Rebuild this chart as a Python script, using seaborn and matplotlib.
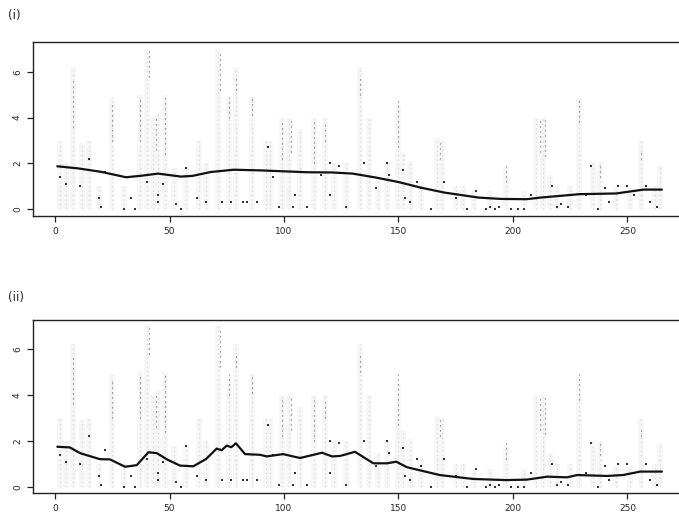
import numpy as np
import pandas as pd
import matplotlib
matplotlib.use("Agg")
import matplotlib.pyplot as plt
import seaborn as sns

# ---- data -------------------------------------------------------------
# range columns: time index and upper end of each column (lower end 0)
col_x = [2, 5, 8, 12, 15, 19, 25, 30, 37, 40, 43, 45, 48, 52, 57, 63, 66,
         71, 76, 79, 86, 92, 94, 99, 102, 107, 113, 118, 122, 127, 133, 137,
         141, 145, 150, 152, 155, 160, 167, 169, 175, 178, 183, 190, 197, 205,
         210, 213, 216, 219, 225, 229, 235, 238, 245, 251, 256, 262, 264]
col_top = [3.0, 2.0, 6.2, 2.9, 3.0, 1.0, 4.9, 1.0, 5.0, 7.0, 4.0, 4.2, 5.0,
           1.8, 1.8, 3.0, 2.0, 7.0, 4.8, 6.2, 4.9, 3.0, 3.0, 4.0, 4.0, 3.5,
           4.0, 4.0, 2.0, 2.0, 6.2, 4.0, 1.5, 2.0, 4.5, 2.5, 2.1, 1.2, 3.1,
           3.0, 1.0, 1.0, 0.8, 0.8, 1.8, 0.8, 4.0, 4.0, 1.5, 1.0, 1.0, 4.8,
           2.0, 2.0, 0.9, 0.9, 3.0, 1.0, 1.9]

# darker stretches within columns
seg_x = [8, 25, 37, 41, 44, 48, 72, 76, 79, 86, 99, 103, 113, 118, 133, 150,
         168, 197, 212, 214, 229, 238, 256]
seg_lo = [3.6, 3.0, 3.0, 5.8, 2.6, 2.4, 5.2, 4.0, 5.2, 4.1, 2.2, 2.5, 2.0,
          3.0, 5.0, 2.7, 2.2, 1.2, 2.5, 2.3, 3.8, 1.4, 2.2]
seg_hi = [5.8, 4.6, 4.9, 6.9, 4.0, 4.9, 6.8, 4.9, 5.8, 4.8, 3.8, 3.9, 3.8,
          3.8, 5.8, 4.9, 2.9, 1.9, 4.0, 4.0, 4.9, 1.9, 2.5]

# individual observations
obs_x = [2, 5, 11, 15, 19, 20, 22, 30, 35, 33, 40, 45, 45, 47, 53, 55, 57,
         66, 62, 73, 77, 82, 84, 88, 93, 95, 98, 104, 105, 110, 116, 120, 120,
         124, 127, 135, 140, 145, 146, 152, 153, 155, 158, 160, 164, 170, 175,
         180, 184, 188, 190, 192, 194, 199, 202, 205, 208, 217, 219, 221, 224,
         232, 234, 237, 240, 242, 246, 250, 253, 258, 260, 263]
obs_y = [1.4, 1.1, 1.0, 2.2, 0.5, 0.1, 1.6, 0.0, 0.0, 0.5, 1.2, 0.6, 0.3, 1.1,
         0.2, 0.0, 1.8, 0.3, 0.5, 0.3, 0.3, 0.3, 0.3, 0.3, 2.7, 1.4, 0.1, 0.1,
         0.6, 0.1, 1.5, 0.6, 2.0, 1.9, 0.1, 2.0, 0.9, 2.0, 1.5, 1.7, 0.5, 0.3,
         1.2, 0.9, 0.0, 1.2, 0.5, 0.0, 0.8, 0.0, 0.1, 0.0, 0.1, 0.0, 0.0, 0.0,
         0.6, 1.0, 0.1, 0.2, 0.1, 0.6, 1.9, 0.0, 0.9, 0.3, 1.0, 1.0, 0.6, 1.0,
         0.3, 0.1]

# fitted curves
fit1_x = [1, 10, 20, 31, 38, 45, 55, 60, 68, 78, 90, 100, 110, 121, 130, 140,
          150, 160, 170, 185, 195, 206, 212, 220, 229, 245, 257, 265]
fit1_y = [1.87, 1.78, 1.63, 1.39, 1.46, 1.55, 1.42, 1.45, 1.62, 1.72, 1.69,
          1.65, 1.61, 1.60, 1.55, 1.38, 1.18, 0.93, 0.72, 0.50, 0.44, 0.43,
          0.50, 0.57, 0.65, 0.68, 0.85, 0.85]

fit2_x = [1, 6.5, 11, 19.6, 24, 30.6, 35.7, 40.8, 44.5, 48.9, 54.6, 60.4, 66,
          70.6, 72.8, 75, 77, 79, 83, 89.5, 92.5, 99.6, 107, 116.6, 121, 124.5,
          131, 139, 145, 149, 153.7, 168, 182.5, 197, 206, 215, 223.6, 228,
          241, 248, 255.5, 265]
fit2_y = [1.75, 1.72, 1.47, 1.21, 1.20, 0.88, 0.95, 1.51, 1.47, 1.20, 0.93,
          0.90, 1.22, 1.67, 1.60, 1.80, 1.73, 1.90, 1.43, 1.40, 1.33, 1.43,
          1.26, 1.49, 1.33, 1.35, 1.53, 1.03, 1.03, 1.10, 0.86, 0.52, 0.35,
          0.30, 0.32, 0.45, 0.42, 0.52, 0.48, 0.52, 0.67, 0.67]

x_ticks = [0, 50, 100, 150, 200, 250]
y_ticks = [0, 2, 4, 6]

# ---- figure -----------------------------------------------------------
sns.set_style("ticks")
plt.rcParams["font.family"] = ["DejaVu Sans"]

W, H = 679, 521
fig = plt.figure(figsize=(W / 100, H / 100), dpi=100)

obs = pd.DataFrame({"t": obs_x, "v": obs_y})


def panel(top_px, bot_px, zero_px, six_px, fit_x, fit_y, tag, tag_y):
    left_px, right_px = 33, 700
    ax = fig.add_axes([left_px / W, 1 - bot_px / H,
                       (right_px - left_px) / W, (bot_px - top_px) / H])
    ppu_x = 2.29
    ppu_y = (zero_px - six_px) / 6.0
    ax.set_xlim((left_px - 55) / ppu_x, (right_px - 55) / ppu_x)
    ax.set_ylim((zero_px - bot_px) / ppu_y, (zero_px - top_px) / ppu_y)

    # faint bands and dotted ranges
    ax.vlines(col_x, 0, col_top, color="#f6f6f6", linewidth=4.0, zorder=1)
    ax.vlines(col_x, 0, col_top, color="#d6d6d6", linewidth=0.8,
              linestyles=(0, (1.0, 3.0)), zorder=2)
    ax.vlines(seg_x, seg_lo, seg_hi, color="#666666", linewidth=0.8,
              linestyles=(0, (1.0, 3.5)), zorder=3)
    sns.scatterplot(data=obs, x="t", y="v", ax=ax, s=2.5, color="#333333",
                    marker="s", linewidth=0, zorder=4, legend=False)
    fit = pd.DataFrame({"t": fit_x, "v": fit_y})
    sns.lineplot(data=fit, x="t", y="v", ax=ax, color="#111111",
                 linewidth=1.6, zorder=5, sort=False)

    ax.set_xticks(x_ticks)
    ax.set_yticks(y_ticks)
    ax.set_xlabel("")
    ax.set_ylabel("")
    ax.tick_params(axis="both", length=4, width=0.9, color="#222222",
                   labelsize=6.5, pad=4)
    for lab in ax.get_yticklabels():
        lab.set_rotation(90)
        lab.set_va("center")
    for s in ax.spines.values():
        s.set_linewidth(1.0)
        s.set_color("#222222")
    fig.text(8 / W, 1 - tag_y / H, tag, fontsize=8.5, va="center", ha="left")
    return ax


panel(42, 216, 209, 72, fit1_x, fit1_y, "(i)", 15)
panel(320, 493, 487, 349, fit2_x, fit2_y, "(ii)", 297)

fig.savefig("out.png", dpi=100)
